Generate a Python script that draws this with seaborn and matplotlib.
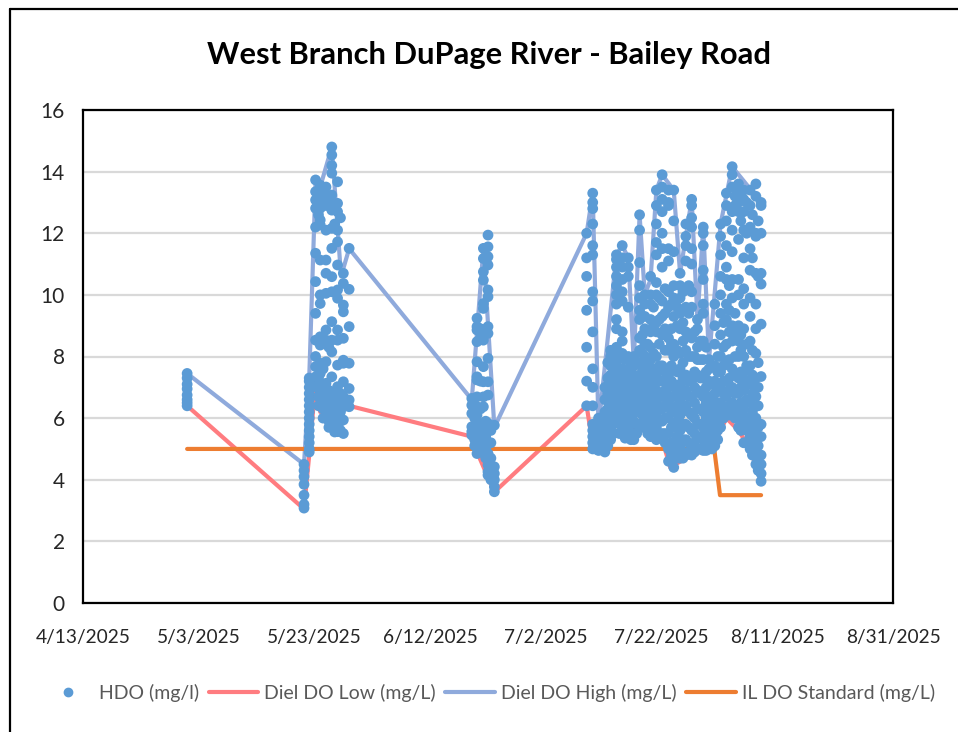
import pandas as pd
import seaborn as sns
import matplotlib.pyplot as plt
from matplotlib.lines import Line2D

START = pd.Timestamp("2025-04-13")

tick_days = [0, 20, 40, 60, 80, 100, 120, 140]
tick_labels = ["4/13/2025", "5/3/2025", "5/23/2025", "6/12/2025",
               "7/2/2025", "7/22/2025", "8/11/2025", "8/31/2025"]

# HDO readings, grouped by the column of dots they sit in (days since 4/13)
hdo_days = [18, 38.2, 39.1, 40.2, 41, 42, 43, 44, 45, 46,
            67.2, 68.1, 69.2, 70, 71.1,
            87.05, 88.1, 89.1, 90.2, 91.2, 92.2, 93.2, 94.25, 95.2, 96.2, 97.1, 98.1,
            99.1, 100.1, 101.2, 102.1, 103.2, 104.2, 105.2, 106.2, 107.2, 108.2,
            109.2, 110.2, 111.2, 112.2, 113.3, 114.2, 115.3, 116.3, 117.2]
hdo_vals = [
    [6.4, 6.5, 6.6, 6.75, 6.95, 7.1, 7.3, 7.45],
    [3.08, 3.2, 3.5, 3.85, 4.1, 4.3, 4.5],
    [4.9, 5.0, 5.2, 5.4, 5.6, 5.8, 6.0, 6.2, 6.4, 6.6, 6.8, 7.0, 7.2, 7.3],
    [13.73, 13.35, 13.08, 12.81, 12.2, 11.35, 10.43, 9.4, 8.53, 8.0, 7.67, 7.34, 7.02],
    [13.56, 13.29, 13.02, 12.81, 12.43, 12.27, 11.13, 10.0, 9.72, 8.64, 8.37, 7.78, 7.45, 7.13, 6.8],
    [13.5, 13.19, 12.9, 12.1, 11.13, 10.7, 10.05, 8.86, 8.53, 7.83, 7.13, 6.7, 6.37, 6.05],
    [14.8, 14.54, 14.2, 13.95, 13.24, 12.75, 12.16, 11.51, 10.59, 10.1, 9.13, 8.53, 8.15, 7.34, 6.8, 6.37, 5.94, 5.77],
    [13.67, 12.97, 12.7, 12.1, 11.72, 10.97, 10.16, 9.89, 8.86, 8.53, 7.72, 7.02, 6.37, 6.05, 5.56],
    [10.7, 10.37, 9.67, 9.45, 8.59, 7.88, 7.78, 7.18, 6.7, 6.37, 5.94, 5.5],
    [11.51, 10.18, 8.97, 7.78, 6.96, 6.59, 6.37],
    [6.64, 6.42, 6.15, 5.72, 5.56, 5.45],
    [9.24, 8.97, 8.86, 8.48, 7.83, 7.34, 7.24, 6.69, 6.37, 6.1, 5.83, 5.5, 5.29, 5.07, 4.85],
    [11.51, 11.18, 10.75, 10.48, 9.72, 9.56, 8.86, 8.53, 7.67, 7.18, 6.69, 6.37, 5.83, 5.4, 5.18, 5.0],
    [11.94, 11.56, 11.24, 10.97, 10.16, 9.94, 8.97, 8.75, 7.94, 7.18, 6.75, 5.83, 5.61, 4.85, 4.69, 4.48, 4.26, 4.15],
    [5.77, 4.42, 4.2, 4.0, 3.77, 3.61],
    [12.0, 11.2, 10.6, 9.5, 8.3, 7.2, 6.4],
    [13.3, 13.0, 12.8, 12.3, 11.6, 11.3, 10.1, 9.8, 8.8, 7.6, 7.0, 6.4, 5.8, 5.6, 5.4, 5.2, 5.0],
    [6.0, 5.8, 5.6, 5.4, 5.2, 5.0, 4.95],
    [7.0, 6.6, 6.2, 5.9, 5.6, 5.3, 5.0, 4.9],
    [8.2, 8.0, 7.7, 7.4, 7.1, 6.8, 6.5, 6.2, 5.9, 5.6, 5.3],
    [11.3, 11.15, 10.9, 10.6, 10.3, 10.0, 9.7, 9.2, 8.9, 8.3, 7.8, 7.4, 7.0, 6.6, 6.3, 6.0],
    [11.6, 11.2, 10.9, 10.5, 10.1, 9.8, 8.8, 8.5, 8.1, 7.6, 7.2, 6.8, 6.4, 6.0, 5.7],
    [11.2, 10.9, 10.6, 9.6, 8.0, 7.5, 7.2, 6.9, 6.5, 6.1, 5.7, 5.4],
    [8.0, 7.7, 7.4, 7.0, 6.7, 6.3, 5.9, 5.5, 5.3],
    [12.6, 12.1, 11.05, 10.3, 9.9, 9.5, 9.2, 8.6, 8.2, 7.8, 7.4, 7.0, 6.6, 6.2, 5.8],
    [10.0, 9.7, 9.3, 8.9, 8.4, 8.0, 7.6, 7.2, 6.9, 6.5, 6.1, 5.7],
    [10.6, 10.0, 9.7, 9.2, 8.8, 8.3, 7.9, 7.4, 7.0, 6.6, 6.2, 5.8, 5.4],
    [13.4, 12.9, 12.3, 11.7, 11.3, 10.4, 10.0, 9.1, 8.8, 8.0, 7.4, 6.9, 6.5, 6.1, 5.7, 5.3],
    [13.9, 13.5, 13.1, 12.7, 12.0, 11.5, 10.9, 9.8, 9.3, 8.7, 7.7, 7.2, 6.7, 6.3, 5.9, 5.5],
    [13.4, 13.0, 12.9, 11.5, 11.1, 10.1, 9.6, 8.6, 8.2, 7.4, 7.0, 6.5, 6.0, 5.5, 5.0, 4.6],
    [13.4, 12.4, 11.4, 10.3, 9.9, 9.3, 8.4, 8.0, 7.1, 6.7, 6.2, 5.7, 5.2, 4.8, 4.4],
    [10.7, 10.3, 9.9, 9.4, 8.9, 8.1, 7.6, 7.1, 6.6, 6.1, 5.6, 5.1, 4.7],
    [12.3, 11.9, 11.6, 11.1, 10.2, 9.6, 8.8, 8.2, 7.4, 6.9, 6.4, 5.8, 5.3, 4.8],
    [13.1, 12.9, 12.5, 12.2, 11.5, 11.0, 10.1, 9.6, 8.6, 8.0, 7.2, 6.7, 6.1, 5.6, 5.1, 4.8],
    [9.2, 8.9, 8.3, 7.9, 7.4, 6.9, 6.3, 5.8, 5.4, 5.0],
    [12.2, 12.0, 11.6, 10.8, 10.5, 9.7, 9.4, 8.5, 7.9, 7.3, 6.7, 6.2, 5.7, 5.3, 4.95],
    [7.9, 7.6, 7.2, 6.7, 6.3, 5.8, 5.4, 5.0],
    [9.7, 9.0, 8.4, 7.7, 7.2, 6.8, 6.3, 5.8, 5.4, 5.1],
    [12.3, 11.9, 11.3, 10.6, 10.0, 9.4, 8.7, 8.0, 7.5, 7.0, 6.5, 6.1, 5.7],
    [13.3, 12.9, 12.4, 11.6, 10.9, 10.5, 9.7, 9.2, 8.4, 7.8, 7.2, 6.7, 6.2],
    [14.16, 13.9, 13.5, 12.7, 12.1, 11.4, 10.5, 9.9, 9.0, 8.5, 7.6, 7.0, 6.5, 6.1],
    [13.6, 13.4, 13.0, 12.7, 11.8, 10.5, 10.0, 9.0, 8.5, 8.0, 7.3, 6.8, 6.2, 5.7],
    [13.4, 13.1, 12.7, 12.1, 11.2, 10.2, 9.7, 8.9, 8.0, 7.5, 6.9, 6.3, 5.7, 5.2],
    [13.4, 12.9, 12.2, 11.5, 10.8, 9.9, 9.3, 8.5, 7.7, 7.1, 6.5, 5.9, 5.4, 5.0],
    [13.6, 13.2, 12.0, 11.9, 10.7, 9.7, 8.9, 8.1, 7.3, 6.7, 6.0, 5.4, 4.8, 4.5],
    [13.0, 12.9, 12.0, 10.7, 10.35, 9.05, 7.35, 5.8, 5.4, 4.8, 4.5, 4.2, 3.95],
]

# readings that fall between those columns
mid_days = [40.7, 41.5, 42.5, 43.5, 44.5, 67.7, 68.7, 69.6, 70.5,
            88.6, 89.6, 90.7, 91.7, 92.7, 93.7, 94.7, 95.7, 96.7, 97.6, 98.6, 99.6,
            100.6, 101.7, 102.7, 103.7, 104.7, 105.7, 106.7, 107.7, 108.7, 109.7,
            110.7, 111.7, 112.7, 113.7, 114.7, 115.7, 116.7]
mid_vals = [
    [13.1, 12.6, 7.3, 7.0, 6.7, 6.4],
    [13.4, 13.0, 7.6, 6.9, 6.6, 6.3, 6.0],
    [13.0, 8.3, 6.9, 6.5, 6.2, 5.9, 5.7],
    [12.3, 6.6, 6.2, 6.0, 5.8, 5.55],
    [12.5, 6.8, 6.5, 6.2, 5.9, 5.6],
    [6.0, 5.5, 5.3, 5.1],
    [8.9, 8.6, 7.2, 6.3, 5.6, 5.3, 5.1, 4.9],
    [5.9, 5.4, 5.2, 5.0, 4.9, 4.7],
    [5.6, 5.2, 4.7, 4.3, 4.0],
    [5.8, 5.5, 5.2, 5.0],
    [5.9, 5.6, 5.3, 5.0],
    [7.8, 7.3, 6.8, 6.3, 6.0, 5.7, 5.4, 5.1],
    [8.1, 7.6, 7.2, 6.7, 6.4, 6.1, 5.8, 5.5],
    [8.0, 7.6, 7.3, 6.9, 6.5, 6.2, 5.9, 5.5],
    [7.9, 7.5, 7.1, 6.7, 6.3, 6.0, 5.6, 5.35],
    [7.7, 7.4, 7.0, 6.6, 6.2, 5.9, 5.5, 5.3],
    [7.8, 7.3, 6.9, 6.5, 6.2, 5.8, 5.5],
    [8.7, 8.1, 7.6, 7.2, 6.8, 6.5, 6.1, 5.7],
    [8.4, 7.8, 7.4, 7.0, 6.7, 6.3, 5.9, 5.5],
    [9.6, 9.0, 8.1, 7.6, 7.2, 6.8, 6.4, 6.0, 5.6],
    [9.9, 9.2, 8.4, 7.7, 7.2, 6.7, 6.3, 5.9, 5.4],
    [10.2, 9.4, 8.9, 8.2, 7.5, 6.9, 6.4, 6.0, 5.5, 5.2],
    [9.7, 8.9, 8.4, 7.7, 7.2, 6.7, 6.2, 5.7, 5.2, 4.8, 4.6],
    [9.6, 9.0, 8.2, 7.5, 6.9, 6.4, 5.9, 5.4, 5.0, 4.7],
    [10.1, 9.1, 8.5, 7.8, 7.3, 6.8, 6.3, 5.8, 5.3, 4.9, 4.7],
    [10.3, 9.4, 8.7, 8.0, 7.2, 6.7, 6.2, 5.7, 5.2, 4.9],
    [8.8, 8.0, 7.5, 7.0, 6.5, 6.0, 5.5, 5.2, 4.9],
    [8.5, 7.9, 7.3, 6.8, 6.3, 5.8, 5.4, 5.0],
    [8.3, 7.5, 7.0, 6.5, 6.0, 5.6, 5.2, 4.95],
    [7.7, 7.1, 6.6, 6.1, 5.7, 5.3, 5.0],
    [8.0, 7.5, 7.0, 6.5, 6.0, 5.6, 5.3],
    [9.1, 8.3, 7.7, 7.2, 6.8, 6.3, 6.0],
    [10.3, 9.5, 8.8, 7.9, 7.3, 6.9, 6.4, 6.1],
    [13.2, 12.9, 9.4, 8.8, 8.0, 7.4, 6.8, 6.3, 6.0],
    [13.2, 12.4, 8.7, 8.2, 7.5, 7.0, 6.5, 6.0, 5.6],
    [13.0, 12.0, 8.4, 7.7, 7.2, 6.6, 6.0, 5.6, 5.2],
    [12.6, 11.2, 8.2, 7.4, 6.8, 6.2, 5.7, 5.2, 4.8],
    [12.4, 10.6, 7.8, 7.0, 6.4, 5.7, 5.1, 4.7, 4.3],
]

low_days = [18, 38.2, 39.1, 40.2, 41, 46, 67.2, 68.1, 71.1, 87.05, 88.2, 90.2, 92.2,
            94.2, 96.2, 98.1, 100.1, 101.5, 104.2, 107.2, 109.2, 111.2, 113.3, 115.3, 117.2]
low_vals = [6.4, 3.05, 4.8, 7.2, 6.2, 6.4, 5.4, 4.9, 3.6, 6.4, 5.0, 4.95, 6.0,
            5.4, 5.8, 5.4, 5.3, 4.4, 4.7, 4.95, 5.2, 6.0, 5.6, 5.0, 3.95]

high_days = [18, 38.2, 39.1, 40.2, 41, 43, 44.6, 46, 67.2, 69.2, 71.1, 87.05, 88.1, 89.1,
             92.2, 93.2, 94.25, 95.2, 96.2, 97.1, 98.1, 99.1, 100.1, 102.1, 103.2, 105.2,
             106.2, 107.2, 108.2, 110.2, 112.2, 117.2]
high_vals = [7.45, 4.5, 7.3, 13.7, 13.5, 14.8, 10.6, 11.5, 6.6, 11.5, 5.7, 12.0, 13.3, 5.7,
             11.3, 11.6, 11.2, 7.8, 12.6, 10.0, 10.5, 13.4, 13.9, 13.4, 10.7, 13.1,
             9.2, 12.2, 7.9, 12.3, 14.16, 13.0]

std_days = [18, 109.1, 110.1, 117.2]
std_vals = [5, 5, 3.5, 3.5]


def to_dates(days):
    return START + pd.to_timedelta(days, unit="D")


hdo = pd.concat([
    pd.DataFrame({"day": hdo_days, "val": hdo_vals}),
    pd.DataFrame({"day": mid_days, "val": mid_vals}),
]).explode("val")
hdo["val"] = hdo["val"].astype(float)
hdo["date"] = to_dates(hdo["day"].astype(float))

sns.set_theme(style="white")
plt.rcParams["font.family"] = ["Lato", "DejaVu Sans"]

fig = plt.figure(figsize=(9.58, 7.32), dpi=100)
ax = fig.add_axes([83 / 958, 1 - 603 / 732, 810 / 958, 493 / 732])

lw = 3.0
sns.lineplot(x=to_dates(pd.Series(low_days)), y=low_vals, color="#FF7C80", lw=lw, ax=ax, estimator=None, sort=False)
sns.lineplot(x=to_dates(pd.Series(high_days)), y=high_vals, color="#8FAADC", lw=lw, ax=ax, estimator=None, sort=False)
sns.lineplot(x=to_dates(pd.Series(std_days)), y=std_vals, color="#ED7D31", lw=lw, ax=ax, estimator=None, sort=False)
sns.scatterplot(data=hdo, x="date", y="val", color="#5B9BD5", s=60, edgecolor="none", ax=ax, zorder=5)

ax.set_xlim(START, to_dates(pd.Series([140])).iloc[0])
ax.set_ylim(0, 16)
ax.set_xticks(to_dates(pd.Series(tick_days)))
ax.set_xticklabels(tick_labels)
ax.set_yticks(range(0, 17, 2))
ax.tick_params(axis="both", labelsize=15, colors="#262626", length=0)
ax.tick_params(axis="x", labelsize=13.8, pad=19)
ax.tick_params(axis="y", pad=13)
ax.set_xlabel("")
ax.set_ylabel("")
ax.grid(axis="y", color="#D9D9D9", lw=1.6)
ax.set_axisbelow(True)
for spine in ax.spines.values():
    spine.set_color("black")
    spine.set_linewidth(1.6)

fig.text(489 / 958, 1 - 55 / 732, "West Branch DuPage River - Bailey Road",
         ha="center", va="center", fontsize=22.2, fontweight="bold", color="black")

# outer frame of the screenshot
fig.add_artist(Line2D([9.5 / 958, 9.5 / 958], [0, 1 - 8.5 / 732], color="black", lw=1.6))
fig.add_artist(Line2D([9.5 / 958, 1], [1 - 8.5 / 732, 1 - 8.5 / 732], color="black", lw=1.6))

handles = [
    Line2D([], [], ls="", marker="o", color="#5B9BD5", ms=6, label="HDO (mg/l)"),
    Line2D([], [], color="#FF7C80", lw=lw, label="Diel DO Low (mg/L)"),
    Line2D([], [], color="#8FAADC", lw=lw, label="Diel DO High (mg/L)"),
    Line2D([], [], color="#ED7D31", lw=lw, label="IL DO Standard (mg/L)"),
]
fig.legend(handles=handles, loc="center", bbox_to_anchor=(489 / 958, 1 - 693 / 732), ncol=4,
           frameon=False, fontsize=14, labelcolor="#595959", handlelength=2.55,
           columnspacing=0.5, handletextpad=0.3)

fig.savefig("out.png", dpi=100)
